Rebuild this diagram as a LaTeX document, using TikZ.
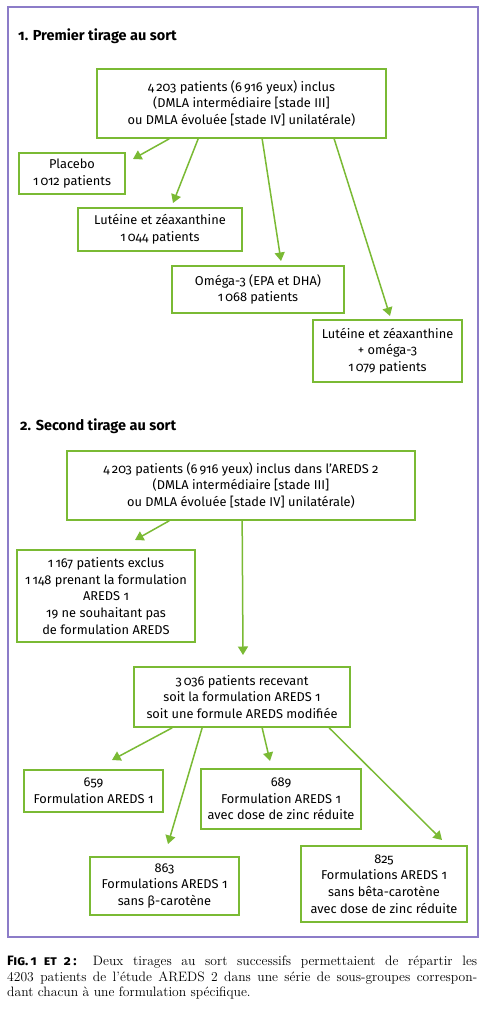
\documentclass[tikz,border=0pt]{standalone}
\usepackage{fontspec}
\newfontfamily\boxfont[Numbers=OldStyle]{Fira Sans}
\usetikzlibrary{arrows.meta,calc}
\definecolor{lgreen}{RGB}{122,186,52}
\definecolor{framepurple}{RGB}{140,124,200}
\begin{document}
\begin{tikzpicture}[x=1pt,y=-1pt,
  box/.style={draw=lgreen,line width=1.7pt,align=center,inner sep=0pt,
    font=\boxfont\fontsize{12.8}{16.6}\selectfont},
  arr/.style={draw=lgreen,line width=1.5pt,-{Triangle[length=8.5pt,width=10pt]}},
  sectitle/.style={anchor=west,inner sep=0pt,font=\boxfont\bfseries\fontsize{14.5}{17}\selectfont}]
\useasboundingbox (0,0) rectangle (486,1024);
\fill[white] (0,0) rectangle (486,1024);
\draw[framepurple,line width=1.3pt] (8,7) rectangle (478,937);

\node[sectitle] (t1) at (18,36) {1. Premier tirage au sort};
\node[box,minimum width=289pt,minimum height=69pt] (box1) at (241.5,103.5)
  {4\,203 patients (6\,916 yeux) inclus\\(DMLA intermédiaire [stade III]\\ou DMLA évoluée [stade IV] unilatérale)};
\node[box,minimum width=106pt,minimum height=41pt] (plac) at (72,173.5) {Placebo\\1\,012 patients};
\node[box,minimum width=164pt,minimum height=43pt] (lut) at (160,229.5) {Lutéine et zéaxanthine\\1\,044 patients};
\node[box,minimum width=172pt,minimum height=47pt] (ome) at (258,289.5) {Oméga-3 (EPA et DHA)\\1\,068 patients};
\node[box,minimum width=149pt,minimum height=62pt] (lutom) at (387.5,351) {Lutéine et zéaxanthine\\+ oméga-3\\1\,079 patients};

\coordinate (e1) at (133,159);
\coordinate (e2) at (173,203);
\coordinate (e3) at (281,261);
\coordinate (e4) at (390,316);
\draw[arr] ($(box1.south west)+(73,0)$) -- (e1);
\draw[arr] ($(box1.south west)+(102,0)$) -- (e2);
\draw[arr] ($(box1.south west)+(166,0)$) -- (e3);
\draw[arr] ($(box1.south west)+(238,0)$) -- (e4);

\node[sectitle] (t2) at (20,426) {2. Second tirage au sort};
\node[box,minimum width=348pt,minimum height=69pt] (boxA) at (241,485.5)
  {4\,203 patients (6\,916 yeux) inclus dans l’AREDS 2\\(DMLA intermédiaire [stade III]\\ou DMLA évoluée [stade IV] unilatérale)};
\node[box,minimum width=178pt,minimum height=92pt] (excl) at (106,596)
  {1\,167 patients exclus\\1\,148 prenant la formulation\\AREDS 1\\19 ne souhaitant pas\\de formulation AREDS};
\node[box,minimum width=216pt,minimum height=60pt] (boxB) at (242,697)
  {3\,036 patients recevant\\soit la formulation AREDS 1\\soit une formule AREDS modifiée};
\node[box,minimum width=139pt,minimum height=42pt] (b659) at (93.5,791) {659\\Formulation AREDS 1};
\node[box,minimum width=160pt,minimum height=60pt] (b689) at (281,799) {689\\Formulation AREDS 1\\avec dose de zinc réduite};
\node[box,minimum width=149pt,minimum height=58pt] (b863) at (164.5,886) {863\\Formulations AREDS 1\\sans β-carotène};
\node[box,minimum width=166pt,minimum height=76pt] (b825) at (384,884) {825\\Formulations AREDS 1\\sans bêta-carotène\\avec dose de zinc réduite};

\coordinate (f1) at (135,540);
\coordinate (f2) at (243,655);
\draw[arr] ($(boxA.south west)+(103,0)$) -- (f1);
\draw[arr] ($(boxA.south west)+(176,0)$) -- (f2);

\coordinate (g1) at (112,760);
\coordinate (g2) at (168,844);
\coordinate (g3) at (270,761);
\coordinate (g4) at (442,840);
\draw[arr] ($(boxB.south west)+(39,0)$) -- (g1);
\draw[arr] ($(boxB.south west)+(69,0)$) -- (g2);
\draw[arr] ($(boxB.south west)+(129,0)$) -- (g3);
\draw[arr] ($(boxB.south west)+(196,0)$) -- (g4);

\node[anchor=north west,inner sep=0pt,text width=470pt,align=justify,
  font=\fontsize{13.6}{15.6}\selectfont] (cap) at (7,956)
  {{\boxfont\bfseries\scshape Fig.\,1 et 2\,:} Deux tirages au sort successifs permettaient de répartir les\linebreak 4203 patients de l’étude AREDS 2 dans une série de sous-groupes correspon-\linebreak dant chacun à une formulation spécifique.};
\end{tikzpicture}
\end{document}
